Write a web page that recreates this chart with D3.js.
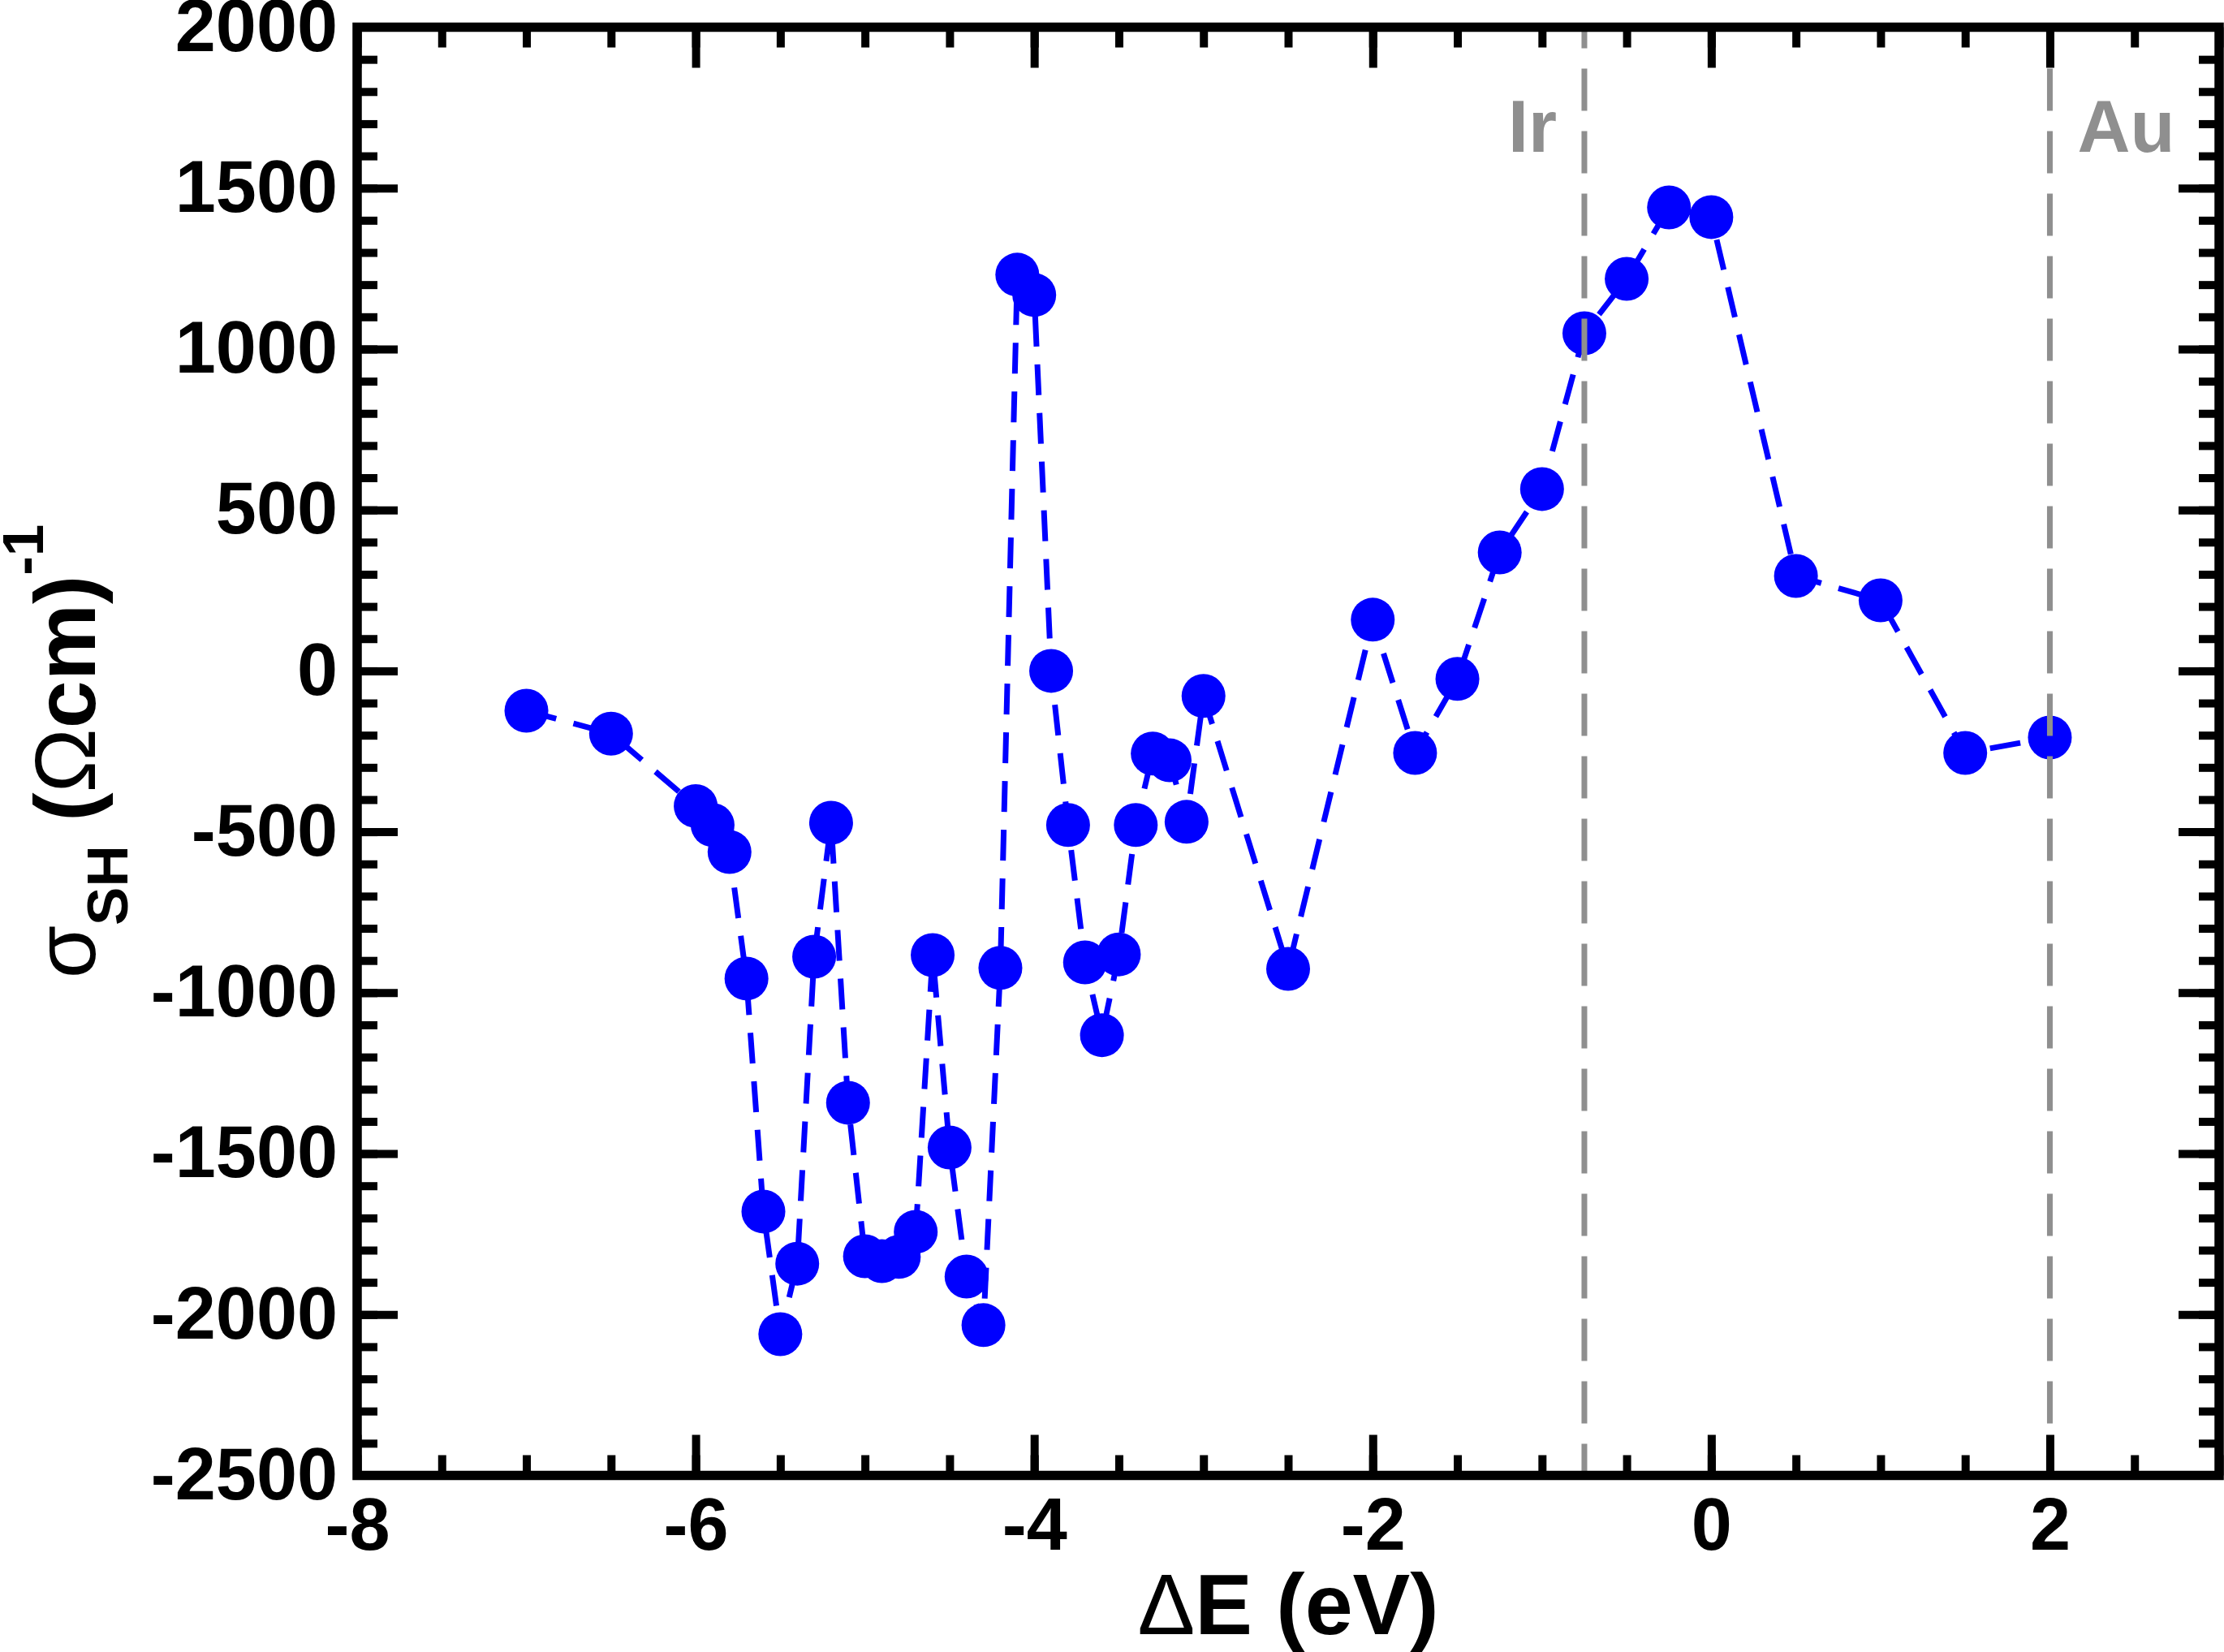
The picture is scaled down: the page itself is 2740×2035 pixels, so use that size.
<!DOCTYPE html>
<html>
<head>
<meta charset="utf-8">
<script src="https://cdn.jsdelivr.net/npm/d3@7"></script>
<style>
  html, body { margin: 0; padding: 0; background: #ffffff; }
  svg { display: block; }
  text { font-family: "Liberation Sans", Arial, Helvetica, sans-serif; }
</style>
</head>
<body>
<svg id="chart" width="2740" height="2035"></svg>
<script>
// ---- data ----
const energy = [-7, -6.5, -6, -5.9, -5.8, -5.7, -5.6, -5.5, -5.4, -5.3, -5.2, -5.1, -5.0, -4.9, -4.8, -4.7,
  -4.6, -4.5, -4.4, -4.3, -4.2, -4.1, -4.0, -3.9, -3.8, -3.7, -3.6, -3.5, -3.4, -3.3, -3.2, -3.1, -3.0,
  -2.5, -2.0, -1.75, -1.5, -1.25, -1.0, -0.75, -0.5, -0.25, 0, 0.5, 1.0, 1.5, 2.0];
const sigmaSH = [-124, -195, -420, -479, -563, -956, -1680, -2061, -1842, -888, -472, -1342, -1819, -1834, -1821, -1743,
  -883, -1481, -1882, -2033, -923, 1231, 1168, 0, -479, -906, -1132, -881, -479, -257, -278, -469, -78,
  -926, 159, -255, -25, 368, 565, 1049, 1218, 1440, 1410, 295, 219, -255, -207];
const xDomain = [-8, 3];
const yDomain = [-2500, 2000];
const xMajorTicks = [-8, -6, -4, -2, 0, 2];
const xMinorTicks = d3.range(-8, 3.001, 0.5);
const yMajorTicks = [-2500, -2000, -1500, -1000, -500, 0, 500, 1000, 1500, 2000];
const yMinorTicks = d3.range(-2500, 2000.1, 100);
const refLines = [-0.75, 2];
const refLabels = ["Ir", "Au"];

// ---- layout ----
const pL = 440, pR = 2734, pT = 33.5, pB = 1817.5;
const svg = d3.select("#chart");
const x = d3.scaleLinear().domain(xDomain).range([pL, pR]);
const y = d3.scaleLinear().domain(yDomain).range([pB, pT]);

const blue = "#0000ff";
const gray = "#8f8f8f";
const tickFont = 90;

// data line
const pts = energy.map((e, i) => [e, sigmaSH[i]]);
svg.append("path")
  .datum(pts)
  .attr("fill", "none")
  .attr("stroke", blue)
  .attr("stroke-width", 7)
  .attr("stroke-dasharray", "38,22")
  .attr("d", d3.line().x(d => x(d[0])).y(d => y(d[1])));

// markers
svg.append("g").selectAll("circle")
  .data(pts)
  .join("circle")
  .attr("cx", d => x(d[0]))
  .attr("cy", d => y(d[1]))
  .attr("r", 27)
  .attr("fill", blue);

// reference dashed lines
svg.append("g").selectAll("line")
  .data(refLines)
  .join("line")
  .attr("x1", d => x(d)).attr("x2", d => x(d))
  .attr("y1", pT).attr("y2", pB)
  .attr("stroke", gray)
  .attr("stroke-width", 7)
  .attr("stroke-dasharray", "52,25")
  .attr("stroke-dashoffset", 26);

// reference labels
svg.append("text")
  .attr("x", x(refLines[0]) - 34)
  .attr("y", 187)
  .attr("text-anchor", "end")
  .attr("font-size", 90)
  .attr("font-weight", "bold")
  .attr("fill", gray)
  .text(refLabels[0]);
svg.append("text")
  .attr("x", x(refLines[1]) + 34)
  .attr("y", 187)
  .attr("text-anchor", "start")
  .attr("font-size", 90)
  .attr("font-weight", "bold")
  .attr("fill", gray)
  .text(refLabels[1]);

// ---- axes ----
function styleAxis(g, showLabels) {
  g.select(".domain").remove();
  g.selectAll(".tick line").attr("stroke", "#000").attr("stroke-width", 10);
  g.selectAll(".tick text")
    .attr("fill", "#000")
    .attr("font-size", tickFont)
    .attr("font-weight", "bold")
    .attr("font-family", "'Liberation Sans', Arial, sans-serif");
  if (!showLabels) g.selectAll(".tick text").remove();
}
const fmt = d => String(d);

// bottom
svg.append("g").attr("transform", `translate(0,${pB})`)
  .call(d3.axisBottom(x).tickValues(xMinorTicks).tickSize(-25).tickFormat(""))
  .call(g => styleAxis(g, false));
svg.append("g").attr("transform", `translate(0,${pB})`)
  .call(d3.axisBottom(x).tickValues(xMajorTicks).tickSize(-50).tickPadding(28).tickFormat(fmt))
  .call(g => styleAxis(g, true));
// top
svg.append("g").attr("transform", `translate(0,${pT})`)
  .call(d3.axisTop(x).tickValues(xMinorTicks).tickSize(-25).tickFormat(""))
  .call(g => styleAxis(g, false));
svg.append("g").attr("transform", `translate(0,${pT})`)
  .call(d3.axisTop(x).tickValues(xMajorTicks).tickSize(-50).tickFormat(""))
  .call(g => styleAxis(g, false));
// left
svg.append("g").attr("transform", `translate(${pL},0)`)
  .call(d3.axisLeft(y).tickValues(yMinorTicks).tickSize(-25).tickFormat(""))
  .call(g => styleAxis(g, false));
svg.append("g").attr("transform", `translate(${pL},0)`)
  .call(d3.axisLeft(y).tickValues(yMajorTicks).tickSize(-50).tickPadding(24).tickFormat(fmt))
  .call(g => styleAxis(g, true));
// right
svg.append("g").attr("transform", `translate(${pR},0)`)
  .call(d3.axisRight(y).tickValues(yMinorTicks).tickSize(-25).tickFormat(""))
  .call(g => styleAxis(g, false));
svg.append("g").attr("transform", `translate(${pR},0)`)
  .call(d3.axisRight(y).tickValues(yMajorTicks).tickSize(-50).tickFormat(""))
  .call(g => styleAxis(g, false));

// frame
svg.append("rect")
  .attr("x", pL).attr("y", pT)
  .attr("width", pR - pL).attr("height", pB - pT)
  .attr("fill", "none")
  .attr("stroke", "#000")
  .attr("stroke-width", 11.5);

// ---- axis titles ----
const xt = svg.append("text")
  .attr("x", (pL + pR) / 2)
  .attr("y", 2013)
  .attr("text-anchor", "middle")
  .attr("font-size", 106)
  .attr("font-weight", "bold")
  .attr("fill", "#000");
xt.append("tspan").attr("font-weight", "normal").text("Δ");
xt.append("tspan").text("E (eV)");

const yt = svg.append("text")
  .attr("transform", `translate(117,${(pT + pB) / 2}) rotate(-90)`)
  .attr("text-anchor", "middle")
  .attr("font-size", 106)
  .attr("font-weight", "bold")
  .attr("fill", "#000");
yt.append("tspan").attr("font-weight", "normal").text("σ");
yt.append("tspan").attr("font-size", 71).attr("dy", 40).text("SH");
yt.append("tspan").attr("dy", -40).text(" (");
yt.append("tspan").attr("font-weight", "normal").text("Ω");
yt.append("tspan").text("cm)");
yt.append("tspan").attr("font-size", 71).attr("dy", -64).text("-1");
</script>
</body>
</html>
